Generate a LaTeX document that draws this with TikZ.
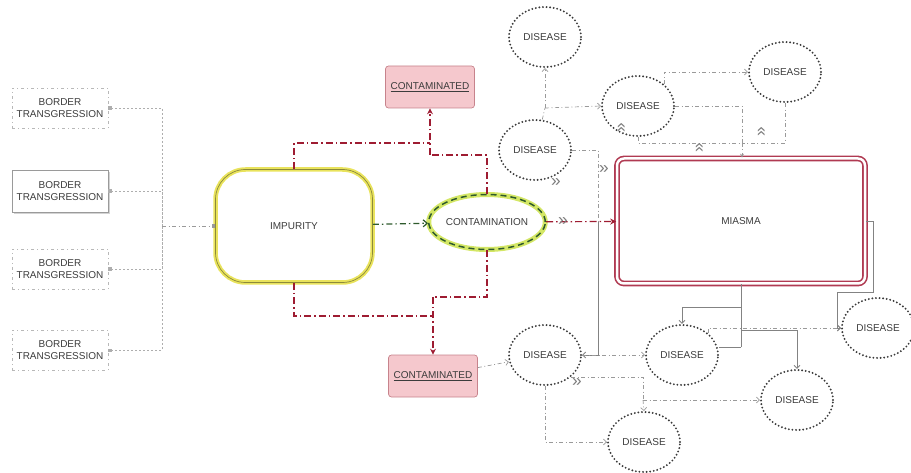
\documentclass[tikz,border=0pt]{standalone}
\usepackage{fontspec}
\setsansfont{Liberation Sans}
\usepackage{xcolor}
\usetikzlibrary{arrows.meta,positioning,shapes,calc,shadows}
\definecolor{ink}{HTML}{3C3C3C}
\definecolor{wiregray}{HTML}{9A9A9A}
\definecolor{dotgray}{HTML}{3A3A3A}
\definecolor{darkred}{HTML}{9E1C32}
\definecolor{miasmared}{HTML}{B03A52}
\definecolor{pinkbg}{HTML}{F5C8CD}
\definecolor{pinkline}{HTML}{C7838C}
\definecolor{glowyellow}{HTML}{E9E35C}
\definecolor{olive}{HTML}{8C8A3A}
\definecolor{limegreen}{HTML}{D4E766}
\definecolor{darkgreen}{HTML}{2E5A2C}
\tikzset{
  bordercard/.style={draw=wiregray!70,dash pattern=on 3pt off 3pt on 1pt off 3pt,
                     line width=0.5pt,minimum width=96pt,minimum height=40pt,
                     align=center,inner sep=2pt,font=\sffamily,text=ink},
  borderbox/.style={draw=wiregray,line width=0.5pt,fill=white,
                    drop shadow={opacity=0.35,shadow xshift=2pt,shadow yshift=-2pt},
                    minimum width=96pt,minimum height=42pt,
                    align=center,inner sep=2pt,font=\sffamily,text=ink},
  impcard/.style={draw=olive,line width=0.7pt,
                  preaction={draw=glowyellow,line width=4.5pt},
                  rounded corners=30pt,minimum width=157pt,minimum height=113pt,
                  font=\sffamily,text=ink},
  contoval/.style={ellipse,draw=darkgreen,line width=1.5pt,dash pattern=on 6pt off 4pt,
                   preaction={draw=limegreen,line width=5pt,solid},
                   minimum width=100pt,minimum height=55pt,inner sep=0pt,
                   font=\sffamily,text=ink},
  pinkcard/.style={draw=pinkline,fill=pinkbg,line width=0.7pt,rounded corners=3pt,
                   minimum width=89pt,minimum height=42pt,font=\sffamily,text=ink},
  miasmabox/.style={draw=miasmared,double=white,double distance=2.5pt,line width=1.6pt,
                    rounded corners=7pt,minimum width=248pt,minimum height=125pt,
                    font=\sffamily,text=ink},
  disease/.style={ellipse,draw=dotgray,dash pattern=on 0pt off 3.6pt,line cap=round,
                  line width=2.1pt,minimum width=72pt,minimum height=60pt,inner sep=0pt,
                  font=\sffamily,text=ink},
  redline/.style={line width=1.2pt,draw=darkred,
                  dash pattern=on 7pt off 3pt on 1.5pt off 3pt},
  redarr/.style={redline,-{Stealth[length=6pt,width=6pt]}},
  greenarr/.style={-{Straight Barb[length=4pt,width=7pt]},line width=1.2pt,
                   draw=darkgreen,dash pattern=on 6pt off 3pt on 1.5pt off 3pt},
  wire/.style={line width=0.7pt,draw=wiregray,
               dash pattern=on 4pt off 2.5pt on 1pt off 2.5pt},
  wirearr/.style={wire,-{Straight Barb[length=3pt,width=6pt]}},
  solidwire/.style={line width=0.9pt,draw=wiregray!85!black},
  solidarr/.style={solidwire,-{Straight Barb[length=3pt,width=6pt]}},
  btwire/.style={{Square[length=3pt,width=3pt]}-,line width=0.5pt,draw=wiregray!80,
                 dash pattern=on 2pt off 2pt},
  chev/.style={font=\sffamily\LARGE,text=wiregray!80!black,inner sep=0pt}
}
\begin{document}
\begin{tikzpicture}[x=1pt,y=-1pt]
  \useasboundingbox (0,0) rectangle (911,473);
  \node[bordercard] (bt1) at (60,108) {BORDER\\TRANSGRESSION};
  \node[borderbox] (bt2) at (60,191) {BORDER\\TRANSGRESSION};
  \node[bordercard] (bt3) at (60,269) {BORDER\\TRANSGRESSION};
  \node[bordercard] (bt4) at (60,350) {BORDER\\TRANSGRESSION};
  \coordinate (btbus) at (162,226);

  \node[impcard] (impurity) at (294,226) {IMPURITY};
  \node[contoval] (contamination) at (487,222) {CONTAMINATION};
  \node[pinkcard] (cntup) at (430,87) {\underline{CONTAMINATED}};
  \node[pinkcard] (cntdown) at (433,376) {\underline{CONTAMINATED}};
  \node[miasmabox] (miasma) at (741,221) {MIASMA};

  \node[disease] (dis1) at (545,37) {DISEASE};
  \node[disease] (dis2) at (638,106) {DISEASE};
  \node[disease] (dis3) at (785,72) {DISEASE};
  \node[disease] (dis4) at (535,150) {DISEASE};
  \node[disease] (dis5) at (545,355) {DISEASE};
  \node[disease] (dis6) at (682,355) {DISEASE};
  \node[disease] (dis7) at (878,328) {DISEASE};
  \node[disease] (dis8) at (797,400) {DISEASE};
  \node[disease] (dis9) at (644,442) {DISEASE};

  \coordinate (upj) at (430,155);
  \coordinate (upk) at (430,143);
  \coordinate (downj) at (433,297);
  \coordinate (downk) at (433,316);
  \coordinate (hubA) at (545,108);
  \coordinate (mtop) at (742,143);
  \coordinate (mleft) at (598,222);
  \coordinate (mb1) at (741,307);
  \coordinate (mb3) at (741,330);
  \coordinate (mb2) at (741,347);
  \coordinate (mr1) at (873,292);
  \coordinate (mr2) at (837,328);
  \coordinate (lb2) at (643,400);

  \draw[btwire] (bt1.east) -| (btbus);
  \draw[btwire] (bt2.east) -| (btbus);
  \draw[btwire] (bt3.east) -| (btbus);
  \draw[btwire] (bt4.east) -| (btbus);
  \draw[wire,-{Square[length=3pt,width=3pt]}] (btbus) -- (impurity.west);

  \draw[redline] (impurity.north) |- (upk);
  \draw[redline] (contamination.north) |- (upj);
  \draw[redarr] (upj) -- (cntup.south);
  \draw[redline] (impurity.south) |- (downk);
  \draw[redline] (contamination.south) |- (downj);
  \draw[redarr] (downj) -- (cntdown.north);
  \draw[greenarr] (impurity) -- (contamination);
  \draw[redarr] (contamination) -- (miasma);

  \draw[wire] (dis4) -- (hubA);
  \draw[wirearr] (hubA) -- (dis1.south);
  \draw[wirearr] (hubA) -- (dis2.west);
  \draw[wirearr] (dis2.north east) |- (dis3.west);
  \draw[wire] (dis2.east) -| (mtop);
  \draw[wire] (dis2.south) |- (mtop);
  \draw[wire] (dis3.south) |- (mtop);
  \draw[wirearr,-{Stealth[length=4pt,width=4pt,fill=darkred]}] (mtop) -- (miasma.north -| mtop);
  \draw[wire] (dis4.east) -| (mleft);

  \draw[solidwire] (miasma.south) -- (mb2);
  \draw[solidarr] (mb1) -| (dis6.north);
  \draw[solidwire] (mb2) -- (mb2 -| dis6.east);
  \draw[solidarr] (mb3) -| (dis8.north);
  \draw[wirearr] (dis6.north east) |- (dis7.west);
  \draw[solidarr] (miasma.east) -| (mr1) -| (mr2) -- (dis7.west);
  \draw[solidarr] (mleft) |- (dis5.east);
  \draw[wirearr] (dis5) -- (dis6);
  \draw[wirearr] (cntdown) -- (dis5);
  \draw[wire] (dis5.south east) -| (lb2);
  \draw[wirearr] (lb2) -- (dis8.west);
  \draw[wirearr] (lb2) -- (dis9.north);
  \draw[wirearr] (dis5.south) |- (dis9.west);

  \node[chev] (ch1) at (563,222) {»};
  \node[chev] (ch2) at (604,170) {»};
  \node[chev] (ch3) at (556,183) {»};
  \node[chev,rotate=90] (ch4) at (622,128) {»};
  \node[chev,rotate=90] (ch5) at (700,148) {»};
  \node[chev,rotate=90] (ch6) at (762,132) {»};
  \node[chev] (ch7) at (577,383) {»};
\end{tikzpicture}
\end{document}
